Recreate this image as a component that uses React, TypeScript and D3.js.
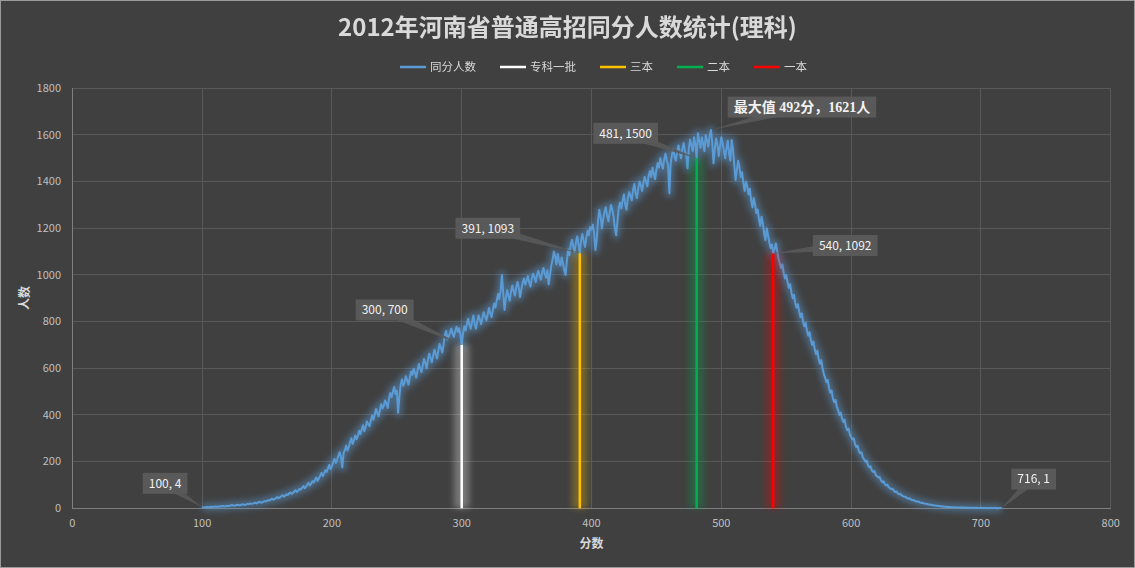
import * as d3 from 'd3';
import React from 'react';

// 同分人数: one count per score, scores 100 .. 716
const scoreStart = 100;
const counts = [
  4, 5, 4, 5, 6, 5, 6, 7, 6, 7,
  8, 7, 6, 8, 9, 8, 10, 9, 8, 10,
  11, 10, 12, 14, 12, 11, 13, 15, 14, 13,
  15, 17, 16, 14, 17, 19, 18, 21, 19, 20,
  22, 24, 21, 25, 27, 26, 24, 28, 31, 29,
  32, 35, 33, 38, 41, 37, 40, 44, 48, 43,
  47, 52, 56, 50, 55, 60, 57, 63, 68, 62,
  66, 72, 78, 70, 76, 84, 80, 88, 95, 86,
  92, 101, 109, 98, 106, 116, 110, 121, 132, 118,
  128, 140, 152, 138, 150, 163, 156, 172, 186, 168,
  180, 198, 212, 194, 208, 226, 240, 218, 175, 236,
  250, 268, 248, 262, 284, 300, 276, 292, 312, 296,
  310, 332, 318, 340, 356, 330, 348, 372, 360, 352,
  376, 398, 380, 402, 426, 408, 395, 420, 446, 428,
  440, 462, 450, 430, 470, 494, 476, 500, 520, 490,
  505, 410, 480, 530, 552, 526, 540, 566, 548, 530,
  560, 586, 572, 598, 580, 560, 592, 618, 600, 584,
  612, 640, 622, 600, 636, 662, 644, 626, 655, 680,
  660, 642, 676, 704, 688, 668, 700, 742, 760, 724,
  738, 752, 770, 748, 735, 760, 778, 756, 772, 742,
  700, 748, 780, 762, 790, 812, 786, 770, 800, 826,
  788, 770, 802, 826, 808, 790, 818, 840, 822, 806,
  830, 858, 836, 820, 850, 878, 860, 890, 918, 896,
  935, 1000, 920, 850, 900, 935, 912, 890, 930, 955,
  930, 912, 948, 970, 944, 905, 940, 968, 985, 958,
  975, 995, 968, 950, 985, 1005, 990, 970, 1000, 1018,
  995, 980, 1010, 1030, 1005, 988, 1020, 960, 1000, 1040,
  1065, 1100, 1080, 1045, 1090, 1060, 1040, 1075, 1050, 1020,
  1000, 1060, 1110, 1085, 1130, 1150, 1120, 1100, 1140, 1165,
  1130, 1093, 1150, 1175, 1145, 1120, 1160, 1190, 1170, 1205,
  1195, 1215, 1180, 1107, 1150, 1230, 1279, 1250, 1200, 1240,
  1270, 1290, 1255, 1230, 1265, 1300, 1280, 1250, 1200, 1170,
  1230, 1290, 1310, 1285, 1320, 1345, 1300, 1280, 1330, 1355,
  1340, 1320, 1365, 1390, 1350, 1330, 1370, 1400, 1385, 1360,
  1395, 1420, 1400, 1380, 1425, 1445, 1420, 1460, 1435, 1410,
  1450, 1480, 1460, 1500, 1475, 1455, 1495, 1520, 1490, 1470,
  1350, 1480, 1515, 1540, 1505, 1490, 1530, 1555, 1525, 1500,
  1540, 1565, 1530, 1510, 1457, 1545, 1580, 1555, 1530, 1590,
  1560, 1500, 1607, 1575, 1545, 1590, 1560, 1530, 1600, 1575,
  1550, 1595, 1621, 1570, 1479, 1540, 1585, 1560, 1510, 1550,
  1590, 1565, 1530, 1500, 1545, 1575, 1520, 1490, 1578, 1540,
  1470, 1407, 1450, 1490, 1460, 1420, 1440, 1395, 1360, 1400,
  1380, 1345, 1370, 1320, 1290, 1330, 1300, 1265, 1280, 1240,
  1210, 1250, 1220, 1180, 1150, 1200, 1170, 1140, 1115, 1130,
  1092, 1110, 1135, 1105, 1070, 1050, 1030, 1045, 1010, 985,
  1000, 970, 945, 960, 925, 900, 915, 880, 860, 875,
  845, 820, 835, 800, 780, 795, 760, 740, 755, 720,
  700, 715, 680, 660, 675, 640, 620, 635, 600, 575,
  560, 540, 550, 515, 495, 505, 470, 455, 465, 435,
  420, 400, 410, 385, 370, 380, 350, 335, 342, 318,
  305, 295, 300, 275, 262, 268, 245, 236, 240, 218,
  210, 200, 205, 185, 176, 180, 162, 156, 160, 142,
  138, 132, 134, 120, 112, 116, 104, 98, 101, 90,
  86, 82, 84, 75, 70, 72, 64, 60, 62, 55,
  52, 49, 50, 44, 41, 43, 38, 35, 36, 32,
  30, 28, 29, 25, 23, 24, 21, 19, 20, 17,
  16, 15, 15, 13, 12, 12, 11, 10, 10, 9,
  8, 8, 7, 7, 6, 6, 6, 5, 5, 4,
  4, 4, 3, 4, 3, 3, 3, 2, 3, 2,
  2, 2, 2, 1, 2, 2, 1, 2, 1, 1,
  2, 1, 1, 1, 1, 0, 1, 1, 1, 0,
  1, 1, 0, 1, 0, 1, 1,
];

const seriesName = '同分人数';
const cutNames = ['专科一批', '三本', '二本', '一本'];
const cutScores = [300, 391, 481, 540];
const cutColors = ['#FFFFFF', '#FFC000', '#00B050', '#FF0000'];

const xTicks = [0, 100, 200, 300, 400, 500, 600, 700, 800];
const yTicks = [0, 200, 400, 600, 800, 1000, 1200, 1400, 1600, 1800];

const labelScores = [100, 300, 391, 481, 492, 540, 716];
// where each callout box sits relative to its point (px)
const labelOffsets = [[-37, -24], [-77, -35], [-92, -25], [-71, -25], [91, -23], [72, -8], [32, -29]];

const W = 1135;
const H = 568;
const FONT = "'Noto Sans CJK SC', 'Noto Sans', sans-serif";
const LINE = '#5B9BD5';

export default function App() {
  const ref = React.useRef<SVGSVGElement>(null);

  React.useEffect(() => {
    document.body.style.margin = '0';
    const svg = d3.select(ref.current);
    svg.selectAll('*').remove();

    const data = counts.map((v, i) => ({ score: scoreStart + i, value: v }));
    const maxScore = data[d3.maxIndex(data, d => d.value)].score;

    const x = d3.scaleLinear().domain([0, 800]).range([72.3, 1110.7]);
    const y = d3.scaleLinear().domain([0, 1800]).range([508.3, 88.3]);

    const defs = svg.append('defs');
    defs.append('filter')
        .attr('id', 'soft')
        .attr('filterUnits', 'userSpaceOnUse')
        .attr('x', 0).attr('y', 0).attr('width', W).attr('height', H)
      .append('feGaussianBlur')
        .attr('stdDeviation', 3);

    // background + frame
    svg.append('rect')
        .attr('width', W).attr('height', H)
        .attr('fill', '#404040');
    svg.append('rect')
        .attr('x', 0.5).attr('y', 0.5)
        .attr('width', W - 1).attr('height', H - 1)
        .attr('fill', 'none')
        .attr('stroke', '#9a9a9a');

    // grid
    const grid = svg.append('g').attr('stroke', '#595959').attr('shape-rendering', 'crispEdges');
    grid.selectAll('line.h')
      .data(yTicks.slice(1))
      .join('line')
        .attr('x1', x(0)).attr('x2', x(800))
        .attr('y1', d => y(d)).attr('y2', d => y(d));
    grid.selectAll('line.v')
      .data(xTicks.slice(1))
      .join('line')
        .attr('class', 'v')
        .attr('x1', d => x(d)).attr('x2', d => x(d))
        .attr('y1', y(0)).attr('y2', y(1800));

    const axes = svg.append('g').attr('stroke', '#7f7f7f').attr('shape-rendering', 'crispEdges');
    axes.append('line').attr('x1', x(0)).attr('x2', x(0)).attr('y1', y(0)).attr('y2', y(1800));
    axes.append('line').attr('x1', x(0)).attr('x2', x(800)).attr('y1', y(0)).attr('y2', y(0));

    // tick labels
    svg.append('g')
        .attr('font-family', FONT).attr('font-size', 11).attr('fill', '#bfbfbf')
        .attr('text-anchor', 'end')
      .selectAll('text')
      .data(yTicks)
      .join('text')
        .attr('x', 61).attr('y', d => y(d)).attr('dy', '0.35em')
        .text(d => d);
    svg.append('g')
        .attr('font-family', FONT).attr('font-size', 11).attr('fill', '#bfbfbf')
        .attr('text-anchor', 'middle')
      .selectAll('text')
      .data(xTicks)
      .join('text')
        .attr('x', d => x(d)).attr('y', 527)
        .text(d => d);

    // axis titles
    svg.append('text')
        .attr('x', x(400)).attr('y', 548)
        .attr('text-anchor', 'middle')
        .attr('font-family', FONT).attr('font-size', 12).attr('font-weight', 'bold')
        .attr('fill', '#d9d9d9')
        .text('分数');
    svg.append('text')
        .attr('transform', 'translate(29,298) rotate(-90)')
        .attr('text-anchor', 'middle')
        .attr('font-family', FONT).attr('font-size', 12).attr('font-weight', 'bold')
        .attr('fill', '#d9d9d9')
        .text('人数');

    // main series with glow
    const line = d3.line<{ score: number; value: number }>()
        .x(d => x(d.score))
        .y(d => y(d.value));
    svg.append('path')
        .datum(data)
        .attr('d', line)
        .attr('fill', 'none')
        .attr('stroke', LINE)
        .attr('stroke-width', 8)
        .attr('stroke-linejoin', 'round')
        .attr('opacity', 0.45)
        .attr('filter', 'url(#soft)');
    svg.append('path')
        .datum(data)
        .attr('d', line)
        .attr('fill', 'none')
        .attr('stroke', LINE)
        .attr('stroke-width', 2)
        .attr('stroke-linejoin', 'round');

    // cut-off lines
    const cuts = cutScores.map((s, i) => ({ score: s, value: counts[s - scoreStart], color: cutColors[i] }));
    svg.append('g')
        .attr('filter', 'url(#soft)')
      .selectAll('line')
      .data(cuts)
      .join('line')
        .attr('x1', d => x(d.score)).attr('x2', d => x(d.score))
        .attr('y1', y(0)).attr('y2', d => y(d.value))
        .attr('stroke', d => d.color)
        .attr('stroke-width', 15)
        .attr('opacity', 0.3);
    svg.append('g')
      .selectAll('line')
      .data(cuts)
      .join('line')
        .attr('x1', d => x(d.score)).attr('x2', d => x(d.score))
        .attr('y1', y(0)).attr('y2', d => y(d.value))
        .attr('stroke', d => d.color)
        .attr('stroke-width', 2.5);

    // callouts
    const labels = svg.append('g').attr('font-family', FONT);
    labelScores.forEach((s, i) => {
      const v = counts[s - scoreStart];
      const isMax = s === maxScore;
      const px = x(s), py = y(v);
      const cx = px + labelOffsets[i][0], cy = py + labelOffsets[i][1];
      const g = labels.append('g');
      const wedge = g.append('path').attr('fill', '#595959').attr('opacity', 0.9);
      const rect = g.append('rect').attr('fill', '#595959');
      const t = g.append('text')
          .attr('x', cx).attr('y', cy).attr('dy', '0.36em')
          .attr('text-anchor', 'middle')
          .attr('fill', '#f2f2f2')
          .attr('font-size', isMax ? 14 : 12)
          .attr('font-weight', isMax ? 'bold' : null)
          .attr('font-family', isMax ? "'Liberation Serif', 'Noto Sans CJK SC', serif" : null)
          .text(isMax ? `最大值 ${s}分，${v}人` : `${s}, ${v}`);
      const tw = (t.node() as SVGTextElement).getComputedTextLength();
      const bw = tw + 12, bh = 21;
      rect.attr('x', cx - bw / 2).attr('y', cy - bh / 2).attr('width', bw).attr('height', bh);
      const ang = Math.atan2(py - cy, px - cx);
      const nx = -Math.sin(ang) * 5, ny = Math.cos(ang) * 5;
      wedge.attr('d', `M${cx + nx},${cy + ny}L${px},${py}L${cx - nx},${cy - ny}Z`);
    });

    // title
    svg.append('text')
        .attr('x', W / 2).attr('y', 36)
        .attr('text-anchor', 'middle')
        .attr('font-family', FONT).attr('font-size', 24).attr('font-weight', 'bold')
        .attr('fill', '#d9d9d9')
        .text('2012年河南省普通高招同分人数统计(理科)');

    // legend
    const items = [{ name: seriesName, color: LINE }]
      .concat(cutNames.map((n, i) => ({ name: n, color: cutColors[i] })));
    const legend = svg.append('g').attr('font-family', FONT).attr('font-size', 11.5);
    let lx = 400;
    items.forEach(it => {
      legend.append('line')
          .attr('x1', lx).attr('x2', lx + 26)
          .attr('y1', 67).attr('y2', 67)
          .attr('stroke', it.color).attr('stroke-width', 2.5);
      const t = legend.append('text')
          .attr('x', lx + 30).attr('y', 67).attr('dy', '0.36em')
          .attr('fill', '#d9d9d9')
          .text(it.name);
      lx += 30 + (t.node() as SVGTextElement).getComputedTextLength() + 24;
    });
  }, []);

  return <svg ref={ref} width={W} height={H} style={{ display: 'block' }} />;
}
